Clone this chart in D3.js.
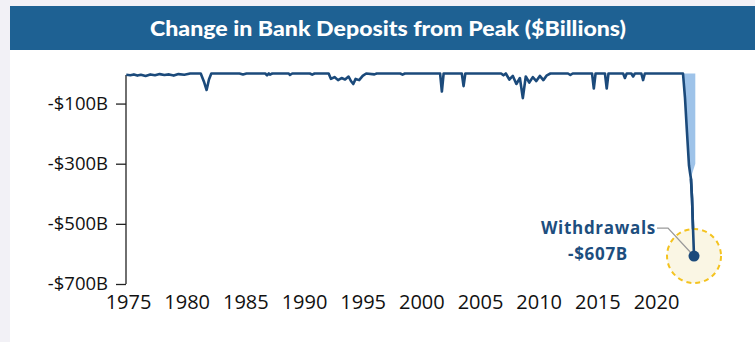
<!DOCTYPE html>
<html><head><meta charset="utf-8">
<script src="https://cdn.jsdelivr.net/npm/d3@7"></script>
<style>html,body{margin:0;padding:0;background:#f2f1f6;}svg{display:block;}</style>
</head><body><svg id="c" width="755" height="342"></svg>
<script>
const title = "Change in Bank Deposits from Peak ($Billions)";
const yTicks = [-100, -300, -500, -700];
const xTickLabels = ["1975","1980","1985","1990","1995","2000","2005","2010","2015","2020"];
const dates = [1974.85,1975.2,1975.5,1975.8,1976.1,1976.5,1976.9,1977.3,1977.7,1978.1,1978.5,1978.9,1979.3,1979.8,1980.3,
 1981.2,1981.5,1981.7,1981.9,1982.1,1984.5,1984.8,1985.1,1986.7,1986.85,1987.0,1987.1,1987.3,1988.7,1988.8,1989.0,
 1990.5,1990.7,1990.9,1992.1,1992.3,1992.6,1992.9,1993.2,1993.5,1993.8,1994.0,1994.2,1994.4,1994.7,1995.0,1995.3,
 1996.0,1996.2,1998.2,1998.4,1998.6,2001.6,2001.75,2001.9,2003.45,2003.6,2003.75,2006.8,2007.0,2007.2,2007.5,2007.8,
 2008.1,2008.4,2008.65,2008.9,2009.2,2009.5,2009.8,2010.1,2010.4,2010.7,2011.0,2012.5,2012.7,2012.9,2014.55,2014.7,
 2014.85,2015.65,2015.8,2015.95,2017.2,2017.35,2017.5,2017.9,2018.05,2018.2,2018.75,2018.9,2019.05,2022.3,2022.47,
 2022.64,2022.81,2022.9,2022.98,2023.07,2023.16,2023.24];
const values = [-4,-6,-3,-7,-4,-8,-3,-6,-2,-5,-3,-7,-2,-4,0,
 0,-30,-55,-20,0,0,-3,0,0,-6,0,-4,0,0,-5,0,
 0,-4,0,0,-18,-12,-22,-15,-20,-10,-25,-35,-18,-22,-8,0,
 -3,0,0,-4,0,0,-60,0,0,-42,0,0,-6,0,-20,-8,
 -35,-15,-82,-10,-30,-12,-25,-8,-22,-6,0,0,-5,0,0,-50,
 0,0,-50,0,0,-15,0,0,-10,0,0,-22,0,0,-80,
 -195,-305,-330,-350,-415,-520,-607];
const shadeDates = [2022.3,2022.47,2022.64,2022.81,2022.98,2023.35,2023.35];
const shadeValues = [0,-80,-195,-305,-345,-300,0];
const lastLabel = "Withdrawals";
const lastValueLabel = "-$607B";

const svg = d3.select("#c");
svg.append("rect").attr("x",10).attr("y",50).attr("width",745).attr("height",292).attr("fill","#ffffff");
svg.append("rect").attr("x",10).attr("y",6).attr("width",745).attr("height",44).attr("fill","#1e6193");
svg.append("text").attr("x",388).attr("y",36).attr("text-anchor","middle")
  .attr("font-family","Lato, 'Open Sans', sans-serif").attr("font-weight",900).attr("font-size",21.5)
  .attr("fill","#ffffff").attr("textLength",476).attr("lengthAdjust","spacingAndGlyphs").text(title);

const x = d3.scaleLinear().domain([1975, 2020]).range([128, 656]);
const y = d3.scaleLinear().domain([-700, 0]).range([284, 73.5]);

// y axis
const yAxis = d3.axisLeft(y).tickValues(yTicks).tickSize(10).tickSizeOuter(0).tickPadding(8)
  .tickFormat(d => "-$" + Math.abs(d) + "B");
const gy = svg.append("g").attr("transform","translate(126,0)").call(yAxis);
gy.select(".domain").attr("stroke","#222").attr("stroke-width",1.3).attr("d","M0,75V284");
gy.selectAll(".tick line").attr("stroke","#222").attr("stroke-width",1.3);
gy.selectAll(".tick text").attr("font-family","'Open Sans', sans-serif").attr("font-size",18.5).attr("fill","#111");

// x axis (labels only)
const xAxis = d3.axisBottom(x).tickValues(xTickLabels.map(Number)).tickSize(0).tickPadding(0).tickFormat(d3.format("d"));
const gx = svg.append("g").attr("transform","translate(0,295)").call(xAxis);
gx.select(".domain").remove();
gx.selectAll(".tick text").attr("font-family","'Open Sans', sans-serif").attr("font-size",20).attr("fill","#111").attr("dy","0.71em");

// shaded area
const shadePts = shadeDates.map((d,i)=>[d, shadeValues[i]]);
svg.append("path").datum(shadePts)
  .attr("d", d3.line().x(d=>x(d[0])).y(d=>y(d[1])) )
  .attr("fill","#9ec3e9").attr("stroke","none");

// main line
const pts = dates.map((d,i)=>[d, values[i]]);
svg.append("path").datum(pts)
  .attr("d", d3.line().x(d=>x(d[0])).y(d=>y(d[1])))
  .attr("fill","none").attr("stroke","#1b4a7b").attr("stroke-width",2.6).attr("stroke-linejoin","round");

// highlight circle
const last = pts[pts.length-1];
const cx = x(last[0]), cy = y(last[1]);
svg.append("circle").attr("cx",cx).attr("cy",cy).attr("r",27)
  .attr("fill","#faf6e4").attr("stroke","#f4c31f").attr("stroke-width",2).attr("stroke-dasharray","5,4");
svg.append("path").datum(pts.slice(-4))
  .attr("d", d3.line().x(d=>x(d[0])).y(d=>y(d[1])))
  .attr("fill","none").attr("stroke","#1b4a7b").attr("stroke-width",2.6);
svg.append("path").attr("d",`M${cx-37},${cy-28}H${cx-26}L${cx-2},${cy-2}`)
  .attr("fill","none").attr("stroke","#9a9a9a").attr("stroke-width",1.3);
svg.append("circle").attr("cx",cx).attr("cy",cy).attr("r",5.5).attr("fill","#1b4a7b");

svg.append("text").attr("x",cx-38).attr("y",cy-22).attr("text-anchor","end")
  .attr("font-family","'Open Sans', sans-serif").attr("font-weight",700).attr("font-size",17)
  .attr("letter-spacing","0.7").attr("fill","#1d4e7e").text(lastLabel);
svg.append("text").attr("x",cx-96).attr("y",cy+4).attr("text-anchor","middle")
  .attr("font-family","'Open Sans', sans-serif").attr("font-weight",700).attr("font-size",17)
  .attr("letter-spacing","0.7").attr("fill","#1d4e7e").text(lastValueLabel);
</script></body></html>
